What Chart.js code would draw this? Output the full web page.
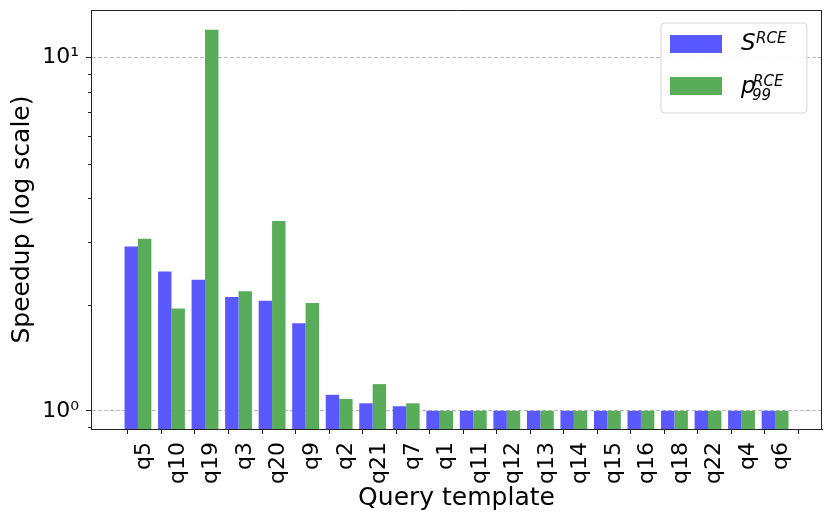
<!DOCTYPE html>
<html><head><meta charset="utf-8">
<script src="https://cdn.jsdelivr.net/npm/chart.js@4/dist/chart.umd.min.js"></script>
<style>html,body{margin:0;padding:0;background:#fff}#wrap{width:831px;height:524px}</style>
</head><body><div id="wrap"><canvas id="c" width="831" height="524"></canvas></div>
<script>
const categories = ['q5','q10','q19','q3','q20','q9','q2','q21','q7','q1','q11','q12','q13','q14','q15','q16','q18','q22','q4','q6'];
const speedupRCE = [2.92, 2.48, 2.35, 2.10, 2.05, 1.77, 1.11, 1.05, 1.03, 1, 1, 1, 1, 1, 1, 1, 1, 1, 1, 1];
const p99RCE     = [3.07, 1.95, 12.0, 2.18, 3.45, 2.02, 1.08, 1.19, 1.05, 1, 1, 1, 1, 1, 1, 1, 1, 1, 1, 1];
const yMajorTicks = [1, 10];
const yMinorTicks = [0.9, 2, 3, 4, 5, 6, 7, 8, 9];
const yTickLabels = {1: '10\u2070', 10: '10\u00B9'};

const FONT = '"DejaVu Sans", sans-serif';
const BLUE = 'rgb(89,89,255)';
const GREEN = 'rgb(89,172,89)';
const AXIS = '#222';
const TICK_SHIFT = 0.2; // tick sits under the second bar of each pair, as in the original

const framePlugin = {
  id: 'frame',
  afterDraw(chart) {
    const {ctx, chartArea: a} = chart;
    ctx.save();
    ctx.strokeStyle = AXIS; ctx.lineWidth = 1;
    ctx.beginPath();
    ctx.moveTo(a.left, a.top + 0.5); ctx.lineTo(a.right, a.top + 0.5);
    ctx.moveTo(a.right - 0.5, a.top); ctx.lineTo(a.right - 0.5, a.bottom);
    ctx.stroke();
    const ys = chart.scales.y;
    ctx.beginPath();
    yMinorTicks.forEach(v => {
      const p = Math.round(ys.getPixelForValue(v)) + 0.5;
      ctx.moveTo(a.left - 3, p); ctx.lineTo(a.left, p);
    });
    ctx.stroke();
    const ds = chart.data.datasets;
    const bx = 661, by = 23, bw = 146, bh = 90, r = 4;
    ctx.beginPath();
    ctx.moveTo(bx + r, by); ctx.lineTo(bx + bw - r, by); ctx.quadraticCurveTo(bx + bw, by, bx + bw, by + r);
    ctx.lineTo(bx + bw, by + bh - r); ctx.quadraticCurveTo(bx + bw, by + bh, bx + bw - r, by + bh);
    ctx.lineTo(bx + r, by + bh); ctx.quadraticCurveTo(bx, by + bh, bx, by + bh - r);
    ctx.lineTo(bx, by + r); ctx.quadraticCurveTo(bx, by, bx + r, by);
    ctx.closePath();
    ctx.fillStyle = 'rgba(255,255,255,0.85)'; ctx.fill();
    ctx.strokeStyle = '#d6d6d6'; ctx.lineWidth = 1; ctx.stroke();
    ctx.fillStyle = ds[0].backgroundColor; ctx.fillRect(670, 35, 52, 18);
    ctx.fillStyle = ds[1].backgroundColor; ctx.fillRect(670, 77, 52, 18);
    ctx.fillStyle = '#000';
    ctx.textBaseline = 'alphabetic'; ctx.textAlign = 'left';
    ctx.font = 'italic 23px ' + FONT;
    ctx.fillText('S', 741, 50);
    ctx.fillText('p', 741, 93);
    ctx.font = 'italic 15px ' + FONT;
    ctx.fillText('RCE', 756, 42.5);
    ctx.fillText('RCE', 753, 85.5);
    ctx.fillText('99', 752, 100);
    ctx.restore();
  }
};

new Chart(document.getElementById('c'), {
  type: 'bar',
  data: {
    datasets: [
      {label: 'S^RCE', data: categories.map((c, i) => ({x: i, y: speedupRCE[i]})), backgroundColor: BLUE, borderWidth: 0},
      {label: 'p99^RCE', data: categories.map((c, i) => ({x: i, y: p99RCE[i]})), backgroundColor: GREEN, borderWidth: 0}
    ]
  },
  options: {
    responsive: false, animation: false, devicePixelRatio: 1,
    categoryPercentage: 0.8, barPercentage: 1.0,
    layout: {padding: {top: 10, right: 9, left: 0, bottom: 0}},
    plugins: {legend: {display: false}, tooltip: {enabled: false}},
    scales: {
      x: {
        type: 'linear', min: -1.40, max: 20.40, offset: false,
        afterBuildTicks: s => { s.ticks = categories.map((c, i) => ({value: i + TICK_SHIFT})); },
        afterFit: s => { s.height = 95; s.paddingLeft = 0; s.paddingRight = 0; },
        ticks: {autoSkip: false, minRotation: 90, maxRotation: 90, padding: 8, color: '#000',
          font: {family: FONT, size: 22}, callback: v => categories[Math.round(v - TICK_SHIFT)] ?? ''},
        grid: {drawOnChartArea: false, tickLength: 5, tickColor: AXIS, tickWidth: 1},
        border: {color: AXIS, width: 1},
        title: {display: true, text: 'Query template', color: '#000', font: {family: FONT, size: 25}, padding: {top: 0, bottom: 11}}
      },
      y: {
        type: 'logarithmic', min: 0.888, max: 13.65,
        afterBuildTicks: s => { s.ticks = yMajorTicks.map(v => ({value: v, major: true})); },
        afterFit: s => { s.width = 91; s.paddingTop = 0; s.paddingBottom = 0; },
        ticks: {autoSkip: false, padding: 7, color: '#000', font: {family: FONT, size: 22},
          callback: v => yTickLabels[v] ?? ''},
        grid: {color: '#b8b8b8', lineWidth: 1, tickLength: 5, tickColor: AXIS, tickWidth: 1},
        border: {color: AXIS, width: 1, dash: [4, 2]},
        title: {display: true, text: 'Speedup (log scale)', color: '#000', font: {family: FONT, size: 25}, padding: {top: 7, bottom: 0}}
      }
    }
  },
  plugins: [framePlugin]
});
</script></body></html>
